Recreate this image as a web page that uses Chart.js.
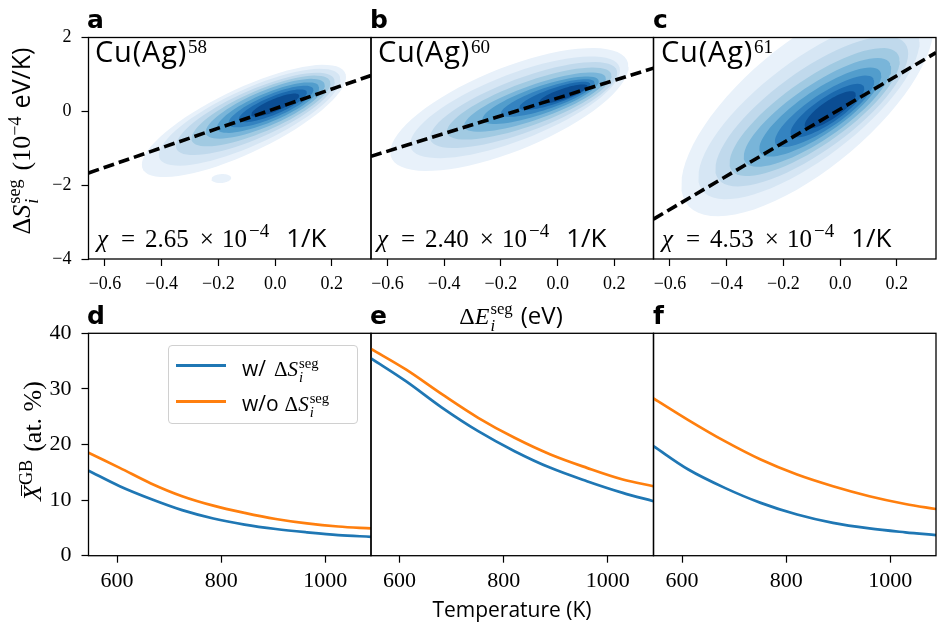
<!DOCTYPE html>
<html><head><meta charset="utf-8">
<script src="https://cdn.jsdelivr.net/npm/chart.js@4.4.1/dist/chart.umd.min.js"></script>
<style>
html,body{margin:0;padding:0;background:#fff;}
#wrap{position:relative;width:943px;height:626px;overflow:hidden;background:#fff;}
canvas{position:absolute;left:0;top:0;}
.t{position:absolute;white-space:nowrap;line-height:1;color:#000;}
.sans{font-family:"Open Sans",sans-serif;}
.serif{font-family:"Liberation Serif",serif;}
.lbl{font-family:"DejaVu Sans",sans-serif;font-weight:bold;font-size:25px;}
.ss{display:inline-flex;flex-direction:column;font-size:0.7em;line-height:1;position:relative;top:-0.57em;margin-left:1px;}
.ss span{display:block;}
.sup{font-size:0.7em;position:relative;top:-0.5em;}
.rot{transform:translate(-50%,-50%) rotate(-90deg);}
.xbar{position:relative;display:inline-block;}
.xbar::before{content:"";position:absolute;left:30%;right:0;top:0.02em;border-top:1.4px solid #000;}
.cu{font-size:29px;letter-spacing:0.8px;}
.cu .n{font-family:"Liberation Serif",serif;font-size:19px;position:relative;top:-9px;margin-left:1px;letter-spacing:0;}
#legend{position:absolute;left:168px;top:345px;width:190px;height:79px;border:1px solid #d0d0d0;border-radius:4px;background:rgba(255,255,255,0.8);box-sizing:border-box;}
.lg{position:absolute;left:7px;width:50px;height:0;border-top:3px solid;}
</style></head>
<body><div id="wrap">
<canvas id="ca" width="943" height="626"></canvas>
<canvas id="cb" width="943" height="626"></canvas>
<canvas id="cc" width="943" height="626"></canvas>
<canvas id="cd" width="943" height="626"></canvas>
<canvas id="ce" width="943" height="626"></canvas>
<canvas id="cf" width="943" height="626"></canvas>

<div class="t lbl" style="left:87px;top:7px">a</div>
<div class="t lbl" style="left:370px;top:7px">b</div>
<div class="t lbl" style="left:653px;top:7px">c</div>
<div class="t lbl" style="left:87px;top:303px">d</div>
<div class="t lbl" style="left:370px;top:303px">e</div>
<div class="t lbl" style="left:653px;top:303px">f</div>

<div class="t sans cu" style="left:95px;top:36px">Cu(Ag)<span class="n">58</span></div>
<div class="t sans cu" style="left:378px;top:36px">Cu(Ag)<span class="n">60</span></div>
<div class="t sans cu" style="left:661px;top:36px">Cu(Ag)<span class="n">61</span></div>

<div class="t serif" style="left:97px;top:224px;font-size:25px"><i>χ</i><span style="margin-left:13px">=</span><span style="margin-left:10px">2.65</span><span style="margin-left:11px">×</span><span style="margin-left:8px">10</span><span style="font-size:19px;position:relative;top:-10px;margin-left:2px">−4</span><span class="sans" style="margin-left:17px;font-size:26px">1/K</span></div>
<div class="t serif" style="left:377px;top:224px;font-size:25px"><i>χ</i><span style="margin-left:13px">=</span><span style="margin-left:10px">2.40</span><span style="margin-left:11px">×</span><span style="margin-left:8px">10</span><span style="font-size:19px;position:relative;top:-10px;margin-left:2px">−4</span><span class="sans" style="margin-left:17px;font-size:26px">1/K</span></div>
<div class="t serif" style="left:662px;top:224px;font-size:25px"><i>χ</i><span style="margin-left:13px">=</span><span style="margin-left:10px">4.53</span><span style="margin-left:11px">×</span><span style="margin-left:8px">10</span><span style="font-size:19px;position:relative;top:-10px;margin-left:2px">−4</span><span class="sans" style="margin-left:17px;font-size:26px">1/K</span></div>

<div class="t rot" style="left:30px;top:141px;font-size:26px"><span class="serif">Δ<i>S</i></span><span class="ss serif"><span>seg</span><span><i>i</i></span></span><span class="serif" style="margin-left:9px">(10</span><span class="serif sup">−4</span><span class="sans" style="margin-left:8px;font-size:25px">eV/K)</span></div>
<div class="t rot" style="left:33px;top:441px;font-size:26px"><span class="serif xbar"><i>X</i></span><span class="serif sup">GB</span><span class="serif" style="margin-left:8px">(at. %)</span></div>

<div class="t" style="left:511px;top:303px;font-size:24px;transform:translateX(-50%)"><span class="serif">Δ<i>E</i></span><span class="ss serif"><span>seg</span><span><i>i</i></span></span><span class="sans" style="margin-left:8px">(eV)</span></div>
<div class="t sans" style="left:512px;top:599px;font-size:21px;transform:translateX(-50%)">Temperature (K)</div>

<div id="legend">
  <div class="lg" style="top:18px;border-color:#1f77b4"></div>
  <div class="lg" style="top:54px;border-color:#ff7f0e"></div>
  <div class="t" style="left:73px;top:12px;font-size:21px"><span class="sans">w/</span><span class="serif" style="margin-left:8px">Δ<i>S</i></span><span class="ss serif"><span>seg</span><span><i>i</i></span></span></div>
  <div class="t" style="left:73px;top:47px;font-size:21px"><span class="sans">w/o</span><span class="serif" style="margin-left:6px">Δ<i>S</i></span><span class="ss serif"><span>seg</span><span><i>i</i></span></span></div>
</div>
</div>
<script>
// ---------- data ----------
const eRange = [-0.658, 0.338];
const sRange = [-4, 2];
const tRange = [545, 1088];
const xgbRange = [0, 40];
const eTicks = [-0.6, -0.4, -0.2, 0.0, 0.2];
const eTickLabels = ['−0.6', '−0.4', '−0.2', '0.0', '0.2'];
const sTicks = [-4, -2, 0, 2];
const sTickLabels = ['−4', '−2', '0', '2'];
const tTicks = [600, 800, 1000];
const tTickLabels = ['600', '800', '1000'];
const xgbTicks = [0, 10, 20, 30, 40];
const xgbTickLabels = ['0', '10', '20', '30', '40'];

// regression lines (endpoints)
const fitA = [[-0.658, -1.67], [0.338, 0.97]];
const fitB = [[-0.658, -1.22], [0.338, 1.17]];
const fitC = [[-0.658, -2.92], [0.338, 1.59]];

// KDE contour levels, outer -> inner: [centerE, centerS, halfLenE, slope, halfThickS]
const kdeColors = ['#e8f1fa', '#d6e6f4', '#c0d9ec', '#a1cae2', '#79b5d9', '#529dcc', '#3483c0', '#1b69ae', '#0b4d93'];
const kdeA = [
  [-0.11, -0.26, 0.36, 3.3, 0.95],
  [-0.09, -0.16, 0.32, 3.2, 0.82],
  [-0.07, -0.07, 0.28, 3.1, 0.70],
  [-0.05, 0.01, 0.245, 3.05, 0.60],
  [-0.035, 0.07, 0.21, 3.0, 0.51],
  [-0.025, 0.10, 0.18, 3.0, 0.42],
  [-0.015, 0.13, 0.15, 3.0, 0.34],
  [-0.008, 0.15, 0.12, 3.0, 0.26],
  [0.0, 0.17, 0.085, 3.0, 0.18]
];
const kdeAextra = [[-0.19, -1.82, 0.035, 0.5, 0.12]];
const kdeB = [
  [-0.17, 0.05, 0.42, 2.75, 1.2],
  [-0.15, 0.11, 0.37, 2.7, 0.95],
  [-0.12, 0.17, 0.33, 2.65, 0.77],
  [-0.10, 0.21, 0.29, 2.6, 0.62],
  [-0.08, 0.25, 0.25, 2.55, 0.49],
  [-0.06, 0.30, 0.205, 2.5, 0.39],
  [-0.035, 0.36, 0.165, 2.5, 0.30],
  [-0.01, 0.42, 0.125, 2.5, 0.22],
  [0.02, 0.47, 0.085, 2.5, 0.15]
];
const kdeC = [
  [-0.115, 0.15, 0.445, 4.8, 2.1],
  [-0.11, 0.05, 0.39, 4.7, 1.6],
  [-0.10, 0.0, 0.34, 4.6, 1.3],
  [-0.09, -0.02, 0.30, 4.6, 1.05],
  [-0.08, -0.03, 0.26, 4.6, 0.86],
  [-0.07, -0.02, 0.215, 4.6, 0.69],
  [-0.055, 0.0, 0.175, 4.6, 0.54],
  [-0.045, 0.02, 0.13, 4.6, 0.41],
  [-0.035, 0.04, 0.09, 4.6, 0.29]
];

// segregation vs temperature
const tempD = [545, 605, 665, 725, 785, 845, 905, 965, 1025, 1088];
const withD = [15.3, 12.5, 10.2, 8.2, 6.7, 5.6, 4.8, 4.2, 3.7, 3.4];
const withoutD = [18.5, 15.8, 13.0, 10.7, 9.0, 7.7, 6.6, 5.8, 5.25, 4.9];
const tempEF = [545, 612, 682, 751, 821, 890, 960, 1029, 1088];
const withE = [35.5, 31.4, 26.6, 22.4, 18.8, 15.8, 13.4, 11.3, 9.8];
const withoutE = [37.2, 33.5, 29.0, 24.8, 21.2, 18.2, 15.8, 13.7, 12.5];
const withF = [19.7, 15.5, 12.2, 9.5, 7.4, 5.9, 4.9, 4.2, 3.7];
const withoutF = [28.3, 24.4, 20.6, 17.3, 14.6, 12.5, 10.7, 9.3, 8.4];

// ---------- drawing ----------
const PW = 943, PH = 626, YW = 60, XH = 44;
const frame = {
  id: 'frame',
  afterDraw(chart) {
    const {ctx, chartArea: a} = chart;
    ctx.save();
    ctx.strokeStyle = '#000';
    ctx.lineWidth = 1.3;
    ctx.strokeRect(a.left, a.top, a.right - a.left, a.bottom - a.top);
    ctx.restore();
  }
};

function contourDatasets(levels, extra) {
  const ds = [];
  const shape = (c) => {
    const [cx, cy, L, s, w] = c;
    const pts = [];
    const n = 72;
    for (let k = 0; k <= n; k++) {
      const t = 2 * Math.PI * k / n;
      pts.push({x: cx + L * Math.cos(t), y: cy + s * L * Math.cos(t) + w * Math.sin(t)});
    }
    return pts;
  };
  levels.forEach((c, i) => {
    ds.push({data: shape(c), fill: 'shape', backgroundColor: kdeColors[i], borderWidth: 0, pointRadius: 0, tension: 0, order: 100 - i});
  });
  (extra || []).forEach((c) => {
    ds.push({data: shape(c), fill: 'shape', backgroundColor: kdeColors[0], borderWidth: 0, pointRadius: 0, tension: 0, order: 100});
  });
  return ds;
}
function fitDataset(f) {
  return {data: f.map(([x, y]) => ({x, y})), borderColor: '#000', borderWidth: 3.6, borderDash: [11, 5], pointRadius: 0, fill: false, order: 0};
}
function curve(ts, vs, color) {
  return {data: ts.map((t, i) => ({x: t, y: vs[i]})), borderColor: color, borderWidth: 2.7, pointRadius: 0, fill: false, tension: 0.35, order: 1};
}
const gridTicks = {display: true, drawOnChartArea: false, drawTicks: true, tickLength: 7, tickWidth: 1.2, tickColor: '#000'};

function mk(id, box, o) {
  const pad = {left: box[0] - (o.showY ? YW : 0), right: PW - box[1], top: box[2], bottom: PH - box[3] - XH};
  const yScale = {
    type: 'linear', display: o.showY, min: o.yr[0], max: o.yr[1],
    afterBuildTicks: (s) => { s.ticks = o.yt.map(v => ({value: v})); },
    ticks: {callback: (v, i) => o.yl[i], font: {family: 'Liberation Serif', size: o.tf}, color: '#000', padding: 10, autoSkip: false},
    grid: gridTicks, border: {display: false}
  };
  if (o.showY) yScale.afterFit = (s) => { s.width = YW; };
  return new Chart(document.getElementById(id), {
    type: 'line',
    data: {datasets: o.datasets},
    options: {
      responsive: false, animation: false, events: [],
      layout: {padding: pad},
      plugins: {legend: {display: false}, tooltip: {enabled: false}},
      scales: {
        x: {
          type: 'linear', min: o.xr[0], max: o.xr[1],
          afterFit: (s) => { s.height = XH; },
          afterBuildTicks: (s) => { s.ticks = o.xt.map(v => ({value: v})); },
          ticks: {callback: (v, i) => o.xl[i], font: {family: 'Liberation Serif', size: o.tf}, color: '#000', padding: o.xpad, maxRotation: 0, autoSkip: false},
          grid: gridTicks, border: {display: false}
        },
        y: yScale
      }
    },
    plugins: [frame]
  });
}

const cols = [[88.5, 371], [371, 653.5], [653.5, 936]];
const topRow = [37.5, 259];
const botRow = [333.3, 555.7];
const topSets = [
  contourDatasets(kdeA, kdeAextra).concat([fitDataset(fitA)]),
  contourDatasets(kdeB).concat([fitDataset(fitB)]),
  contourDatasets(kdeC).concat([fitDataset(fitC)])
];
const botSets = [
  [curve(tempD, withD, '#1f77b4'), curve(tempD, withoutD, '#ff7f0e')],
  [curve(tempEF, withE, '#1f77b4'), curve(tempEF, withoutE, '#ff7f0e')],
  [curve(tempEF, withF, '#1f77b4'), curve(tempEF, withoutF, '#ff7f0e')]
];
['ca', 'cb', 'cc'].forEach((id, i) => {
  mk(id, [cols[i][0], cols[i][1], topRow[0], topRow[1]], {
    showY: i === 0, datasets: topSets[i],
    xr: eRange, xt: eTicks, xl: eTickLabels, yr: sRange, yt: sTicks, yl: sTickLabels, tf: 18, xpad: 7
  });
});
['cd', 'ce', 'cf'].forEach((id, i) => {
  mk(id, [cols[i][0], cols[i][1], botRow[0], botRow[1]], {
    showY: i === 0, datasets: botSets[i],
    xr: tRange, xt: tTicks, xl: tTickLabels, yr: xgbRange, yt: xgbTicks, yl: xgbTickLabels, tf: 22, xpad: 5
  });
});
</script>
</body></html>
